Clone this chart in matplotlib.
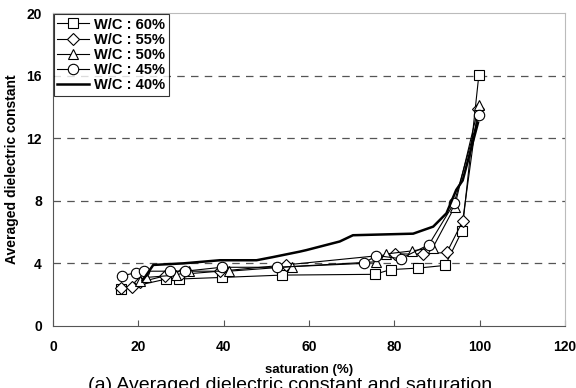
import matplotlib
matplotlib.use('Agg')
import matplotlib.pyplot as plt

plt.rcParams['font.family'] = ['Liberation Sans', 'DejaVu Sans']
plt.rcParams['font.weight'] = 'bold'

# Datos
x60 = [15.9, 26.6, 29.5, 39.5, 53.6, 75.4, 79.1, 85.6, 91.9, 95.9, 99.8]
y60 = [2.35, 3.0, 3.0, 3.1, 3.25, 3.3, 3.6, 3.7, 3.87, 6.1, 16.05]

x55 = [15.9, 18.6, 20.4, 26.2, 30.0, 39.1, 54.5, 80.1, 86.7, 92.3, 96.0, 99.6]
y55 = [2.4, 2.5, 2.8, 3.2, 3.3, 3.5, 3.9, 4.6, 4.6, 4.7, 6.7, 13.9]

x50 = [20.5, 21.8, 28.8, 31.9, 41.2, 56.0, 75.6, 78.0, 84.2, 89.0, 94.1, 99.8]
y50 = [2.9, 3.1, 3.25, 3.5, 3.5, 3.8, 4.1, 4.6, 4.8, 5.0, 7.6, 14.1]

x45 = [16.1, 19.4, 21.4, 27.4, 30.9, 39.5, 52.6, 72.8, 75.8, 81.5, 88.1, 94.0, 99.8]
y45 = [3.2, 3.4, 3.5, 3.5, 3.5, 3.75, 3.75, 4.0, 4.5, 4.3, 5.2, 7.85, 13.5]

x40 = [21.0, 23.5, 30.5, 39.1, 47.7, 51.5, 57.8, 59.4, 67.2, 70.3, 84.4, 89.1, 92.2, 94.5, 96.0, 99.6]
y40 = [2.9, 3.9, 4.0, 4.2, 4.2, 4.4, 4.75, 4.85, 5.4, 5.8, 5.9, 6.35, 7.2, 8.7, 9.3, 13.0]

fig = plt.figure(figsize=(5.76, 3.88), dpi=100)
ax = fig.add_axes([0.092, 0.160, 0.889, 0.806])

mk = dict(color='black', lw=0.8, markerfacecolor='white', markeredgecolor='black',
          markeredgewidth=0.8, markersize=7)
ax.plot(x60, y60, marker='s', label='W/C : 60%', **mk)
ax.plot(x55, y55, marker='D', label='W/C : 55%', **dict(mk, markersize=6))
ax.plot(x50, y50, marker='^', label='W/C : 50%', **mk)
ax.plot(x45, y45, marker='o', label='W/C : 45%', **dict(mk, markersize=7.5))
ax.plot(x40, y40, color='black', lw=1.8, label='W/C : 40%')

ax.set_xlim(0, 120)
ax.set_ylim(0, 20)
ax.set_xticks(range(0, 121, 20))
ax.set_yticks(range(0, 21, 4))
for yv in [4, 8, 12, 16]:
    ax.axhline(yv, color='#555555', lw=0.9, ls=(0, (6, 5)), zorder=0)

ax.spines['left'].set_color('#555555')
ax.spines['bottom'].set_color('#555555')
ax.spines['top'].set_color('#bbbbbb')
ax.spines['right'].set_color('#bbbbbb')
ax.tick_params(axis='x', direction='in', length=4, color='#555555', labelsize=10, pad=10)
ax.tick_params(axis='y', length=0, labelsize=10, pad=8)

ax.set_ylabel('Averaged dielectric constant', fontsize=10, fontweight='bold', labelpad=5)
ax.set_xlabel('saturation (%)', fontsize=9.5, fontweight='bold', labelpad=7)

leg = ax.legend(loc='upper left', bbox_to_anchor=(0.0, 1.0), fontsize=10.5, frameon=True,
                fancybox=False, edgecolor='black', handlelength=2.2, borderpad=0.25,
                labelspacing=0.08, handletextpad=0.3, borderaxespad=0.05)
leg.get_frame().set_linewidth(0.8)

fig.text(0.152, 0.028, '(a) Averaged dielectric constant and saturation',
         fontsize=14, fontweight='normal', ha='left', va='top')

fig.savefig('out.png', dpi=100)
